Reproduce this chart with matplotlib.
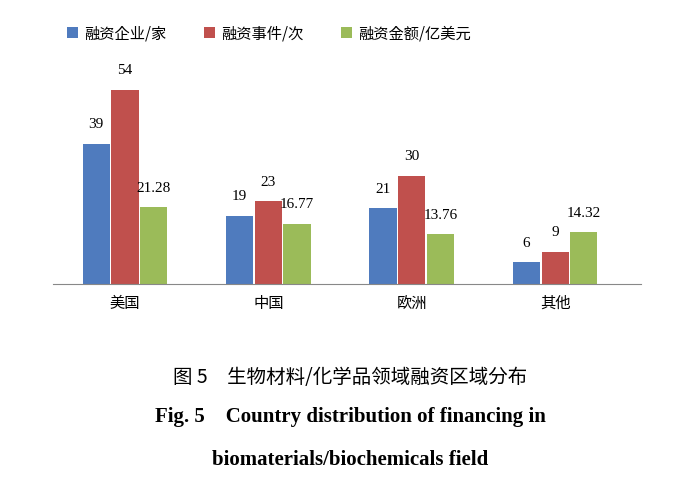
import matplotlib
matplotlib.use("Agg")
import matplotlib.pyplot as plt
from matplotlib import font_manager as fm
import numpy as np

categories = ["美国", "中国", "欧洲", "其他"]
series_names = ["融资企业/家", "融资事件/次", "融资金额/亿美元"]
companies = [39, 19, 21, 6]
events = [54, 23, 30, 9]
amounts = [21.28, 16.77, 13.76, 14.32]
colors = ["#4F7BBE", "#C0504D", "#9BBB59"]

cjk_path = None
for f in fm.findSystemFonts():
    if "CJK" in f and ("Regular" in f or "SC" in f):
        cjk_path = f
        if "Regular" in f:
            break
if cjk_path:
    fm.fontManager.addfont(cjk_path)
    cjk = fm.FontProperties(fname=cjk_path).get_name()
else:
    cjk = "Noto Sans CJK SC"
plt.rcParams["font.family"] = ["Liberation Serif", cjk]

fig = plt.figure(figsize=(7, 4.83), dpi=100)
ax = fig.add_axes([0.076, 0.412, 0.84, 0.447])
x = np.arange(len(categories))
w = 0.2
series = [companies, events, amounts]
for i, (vals, c, name) in enumerate(zip(series, colors, series_names)):
    xs = x + (i - 1) * w
    ax.bar(xs, vals, width=w * 0.95, color=c, label=name)
    for xi, v in zip(xs, vals):
        txt = f"{v:.2f}" if i == 2 else f"{v}"
        ax.text(xi, v + 3.5, txt, ha="center", va="bottom", fontsize=11,
                family="Liberation Serif")
ax.set_xlim(-0.5, 3.6)
ax.set_ylim(0, 60)
ax.set_yticks([])
ax.set_xticks(x)
ax.set_xticklabels(categories, family=cjk, fontsize=11)
ax.tick_params(axis="x", length=0, pad=8)
for s in ["top", "right", "left"]:
    ax.spines[s].set_visible(False)
ax.spines["bottom"].set_color("#888888")
ax.legend(loc="center left", bbox_to_anchor=(0.0, 1.16), ncol=3, frameon=False,
          prop={"family": cjk, "size": 11}, handlelength=0.7, handleheight=0.7,
          columnspacing=2.5, handletextpad=0.4)
fig.text(0.5, 1 - 378 / 483, "图 5　生物材料/化学品领域融资区域分布", ha="center", va="center",
         family=cjk, fontsize=14)
fig.text(0.5, 1 - 417 / 483, "Fig. 5    Country distribution of financing in", ha="center",
         va="center", family="Liberation Serif", fontweight="bold", fontsize=15)
fig.text(0.5, 1 - 460 / 483, "biomaterials/biochemicals field", ha="center",
         va="center", family="Liberation Serif", fontweight="bold", fontsize=15)
fig.savefig("out.png", dpi=100)
